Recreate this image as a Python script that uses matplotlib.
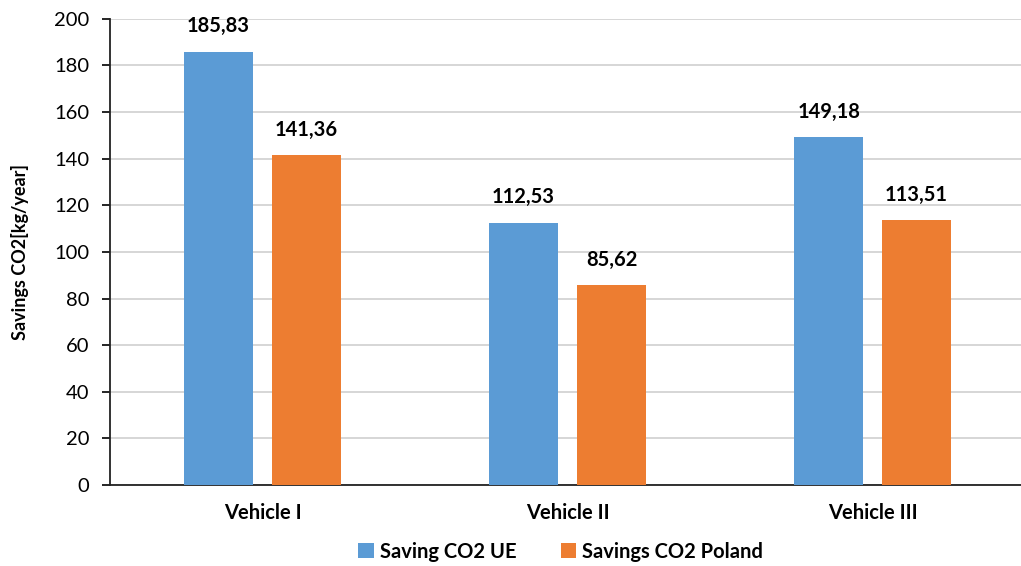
import matplotlib.pyplot as plt
import numpy as np

# Data
vehicles = ['Vehicle I', 'Vehicle II', 'Vehicle III']
saving_ue = [185.83, 112.53, 149.18]
saving_pl = [141.36, 85.62, 113.51]
series_names = ['Saving CO2 UE', 'Savings CO2 Poland']

plt.rcParams['font.family'] = ['Lato', 'DejaVu Sans']

fig = plt.figure(figsize=(10.21, 5.66), dpi=100)
ax = fig.add_axes([0.1077, 0.143, 0.8963, 0.824])

x = np.arange(len(vehicles))
w = 0.226
off = 0.144
b1 = ax.bar(x - off, saving_ue, w, color='#5B9BD5', label=series_names[0], zorder=3)
b2 = ax.bar(x + off, saving_pl, w, color='#ED7D31', label=series_names[1], zorder=3)

# value labels with decimal comma
for bars in (b1, b2):
    for bar in bars:
        h = bar.get_height()
        ax.annotate(f'{h:.2f}'.replace('.', ','),
                    (bar.get_x() + bar.get_width() / 2, h),
                    xytext=(0, 11), textcoords='offset points',
                    ha='center', va='bottom', fontsize=14.5, fontweight='bold')

ax.set_xlim(-0.5, 2.5)
ax.set_ylim(0, 200)
ax.set_yticks(range(0, 201, 20))
ax.set_xticks(x)
ax.set_xticklabels(vehicles, fontsize=14.5, fontweight='bold')
ax.tick_params(axis='y', labelsize=14.5, length=6, width=1.2, pad=9)
ax.tick_params(axis='x', length=0, pad=13)
ax.set_ylabel('Savings CO2[kg/year]', fontsize=13, fontweight='bold', labelpad=18)

ax.grid(axis='y', color='#D0D0D0', linewidth=1.2, zorder=0)
ax.spines['top'].set_visible(False)
ax.spines['right'].set_visible(False)
ax.spines['left'].set_linewidth(1.3)
ax.spines['bottom'].set_linewidth(1.3)
ax.spines['left'].set_color('#222222')
ax.spines['bottom'].set_color('#222222')

leg = fig.legend(handles=[b1, b2], loc='center', bbox_to_anchor=(0.549, 0.025),
                 ncol=2, frameon=False, fontsize=14.5, handlelength=0.75,
                 handleheight=0.75, handletextpad=0.3, columnspacing=2.2)
for t in leg.get_texts():
    t.set_fontweight('bold')

fig.savefig('out.png', dpi=100)
